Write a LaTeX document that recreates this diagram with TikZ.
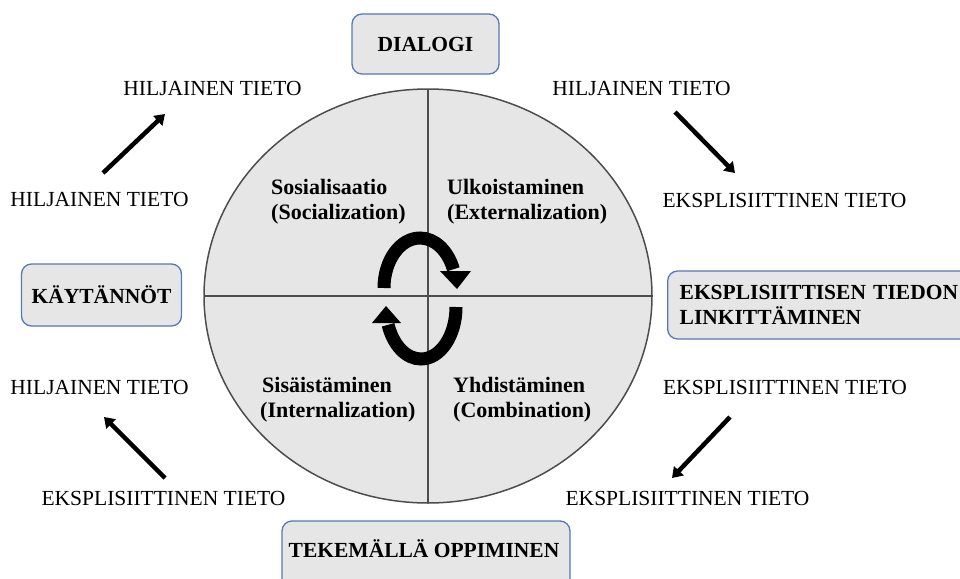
\documentclass[tikz,border=0pt]{standalone}
\usepackage{fontspec}
\setmainfont{Liberation Serif}
\usetikzlibrary{arrows.meta,shapes.geometric}
\definecolor{boxfill}{HTML}{E7E6E6}
\definecolor{boxline}{HTML}{5578B8}
\definecolor{circline}{HTML}{4D4D4D}
\begin{document}
\begin{tikzpicture}[x=1pt,y=-1pt,
  lbl/.style={font=\fontsize{21.5}{26}\selectfont, inner sep=0pt, anchor=base},
  qlbl/.style={font=\fontsize{22}{26}\selectfont\bfseries, inner sep=0pt, anchor=base west},
  box/.style={draw=boxline, fill=boxfill, rounded corners=10pt, line width=1.3pt},
  boxtxt/.style={font=\fontsize{21.5}{25}\selectfont\bfseries, inner sep=0pt},
  flow/.style={line width=4.5pt, -{Triangle[length=10pt,width=13pt]}},
  cyc/.style={line width=13pt},
]
\useasboundingbox (0,0) rectangle (960,578);
\clip (0,0) rectangle (960,578);

% central ellipse with quadrant lines
\node[ellipse, draw=circline, fill=boxfill, line width=1.5pt, inner sep=0pt, outer sep=0pt,
      minimum width=448pt, minimum height=414pt] (circ) at (428,296) {};
\draw[circline, line width=1.5pt] (circ.north) -- (circ.south);
\draw[circline, line width=1.5pt] (circ.west) -- (circ.east);

% boxes
\node[box, boxtxt, minimum width=147pt, minimum height=60pt] (dialogi) at (425.5,44) {DIALOGI};
\node[box, boxtxt, minimum width=160pt, minimum height=62pt] (kaytannot) at (101.5,295) {KÄYTÄNNÖT};
\node[box, boxtxt, anchor=west, minimum height=68pt, text width=300pt, align=left,
      inner xsep=12pt, inner ysep=0pt] (linkbox) at (667,305) {EKSPLISIITTISEN TIEDON\\LINKITTÄMINEN};
\draw[box] (282,521) rectangle (570,610);
\node[boxtxt] (tekemalla) at (424,549) {TEKEMÄLLÄ OPPIMINEN};

% quadrant labels
\node[qlbl] (q1a) at (271,194) {Sosialisaatio};
\node[qlbl] (q1b) at (271,219) {(Socialization)};
\node[qlbl] (q2a) at (447,194) {Ulkoistaminen};
\node[qlbl] (q2b) at (447,219) {(Externalization)};
\node[qlbl] (q3a) at (262,392) {Sisäistäminen};
\node[qlbl] (q3b) at (260,417) {(Internalization)};
\node[qlbl] (q4a) at (453,392) {Yhdistäminen};
\node[qlbl] (q4b) at (453,417) {(Combination)};

% cycle arrows
\draw[cyc] (384,288) arc[start angle=180, end angle=22, x radius=36pt, y radius=50pt];
\fill (440,271) -- (471,271) -- (457,289) -- cycle;
\draw[cyc] (456,307) arc[start angle=0, end angle=-160, x radius=35pt, y radius=52pt];
\fill (372,323) -- (401,323) -- (386,306) -- cycle;

% outer labels
\node[lbl] (hTL) at (212.5,95) {HILJAINEN TIETO};
\node[lbl] (hL) at (99.5,206) {HILJAINEN TIETO};
\node[lbl] (hTR) at (641.5,95) {HILJAINEN TIETO};
\node[lbl] (eR) at (784.5,207) {EKSPLISIITTINEN TIETO};
\node[lbl] (eR2) at (785,394) {EKSPLISIITTINEN TIETO};
\node[lbl] (eBR) at (687.5,505) {EKSPLISIITTINEN TIETO};
\node[lbl] (hBL) at (99.5,394) {HILJAINEN TIETO};
\node[lbl] (eBL) at (163.5,505) {EKSPLISIITTINEN TIETO};

% corner arrows
\coordinate (a1s) at (103,173); \coordinate (a1e) at (165,114);
\coordinate (a2s) at (675,112); \coordinate (a2e) at (735,173);
\coordinate (a3s) at (730,417); \coordinate (a3e) at (672,478);
\coordinate (a4s) at (165,478); \coordinate (a4e) at (104,417);
\draw[flow] (a1s) -- (a1e);
\draw[flow] (a2s) -- (a2e);
\draw[flow] (a3s) -- (a3e);
\draw[flow] (a4s) -- (a4e);
\end{tikzpicture}
\end{document}
